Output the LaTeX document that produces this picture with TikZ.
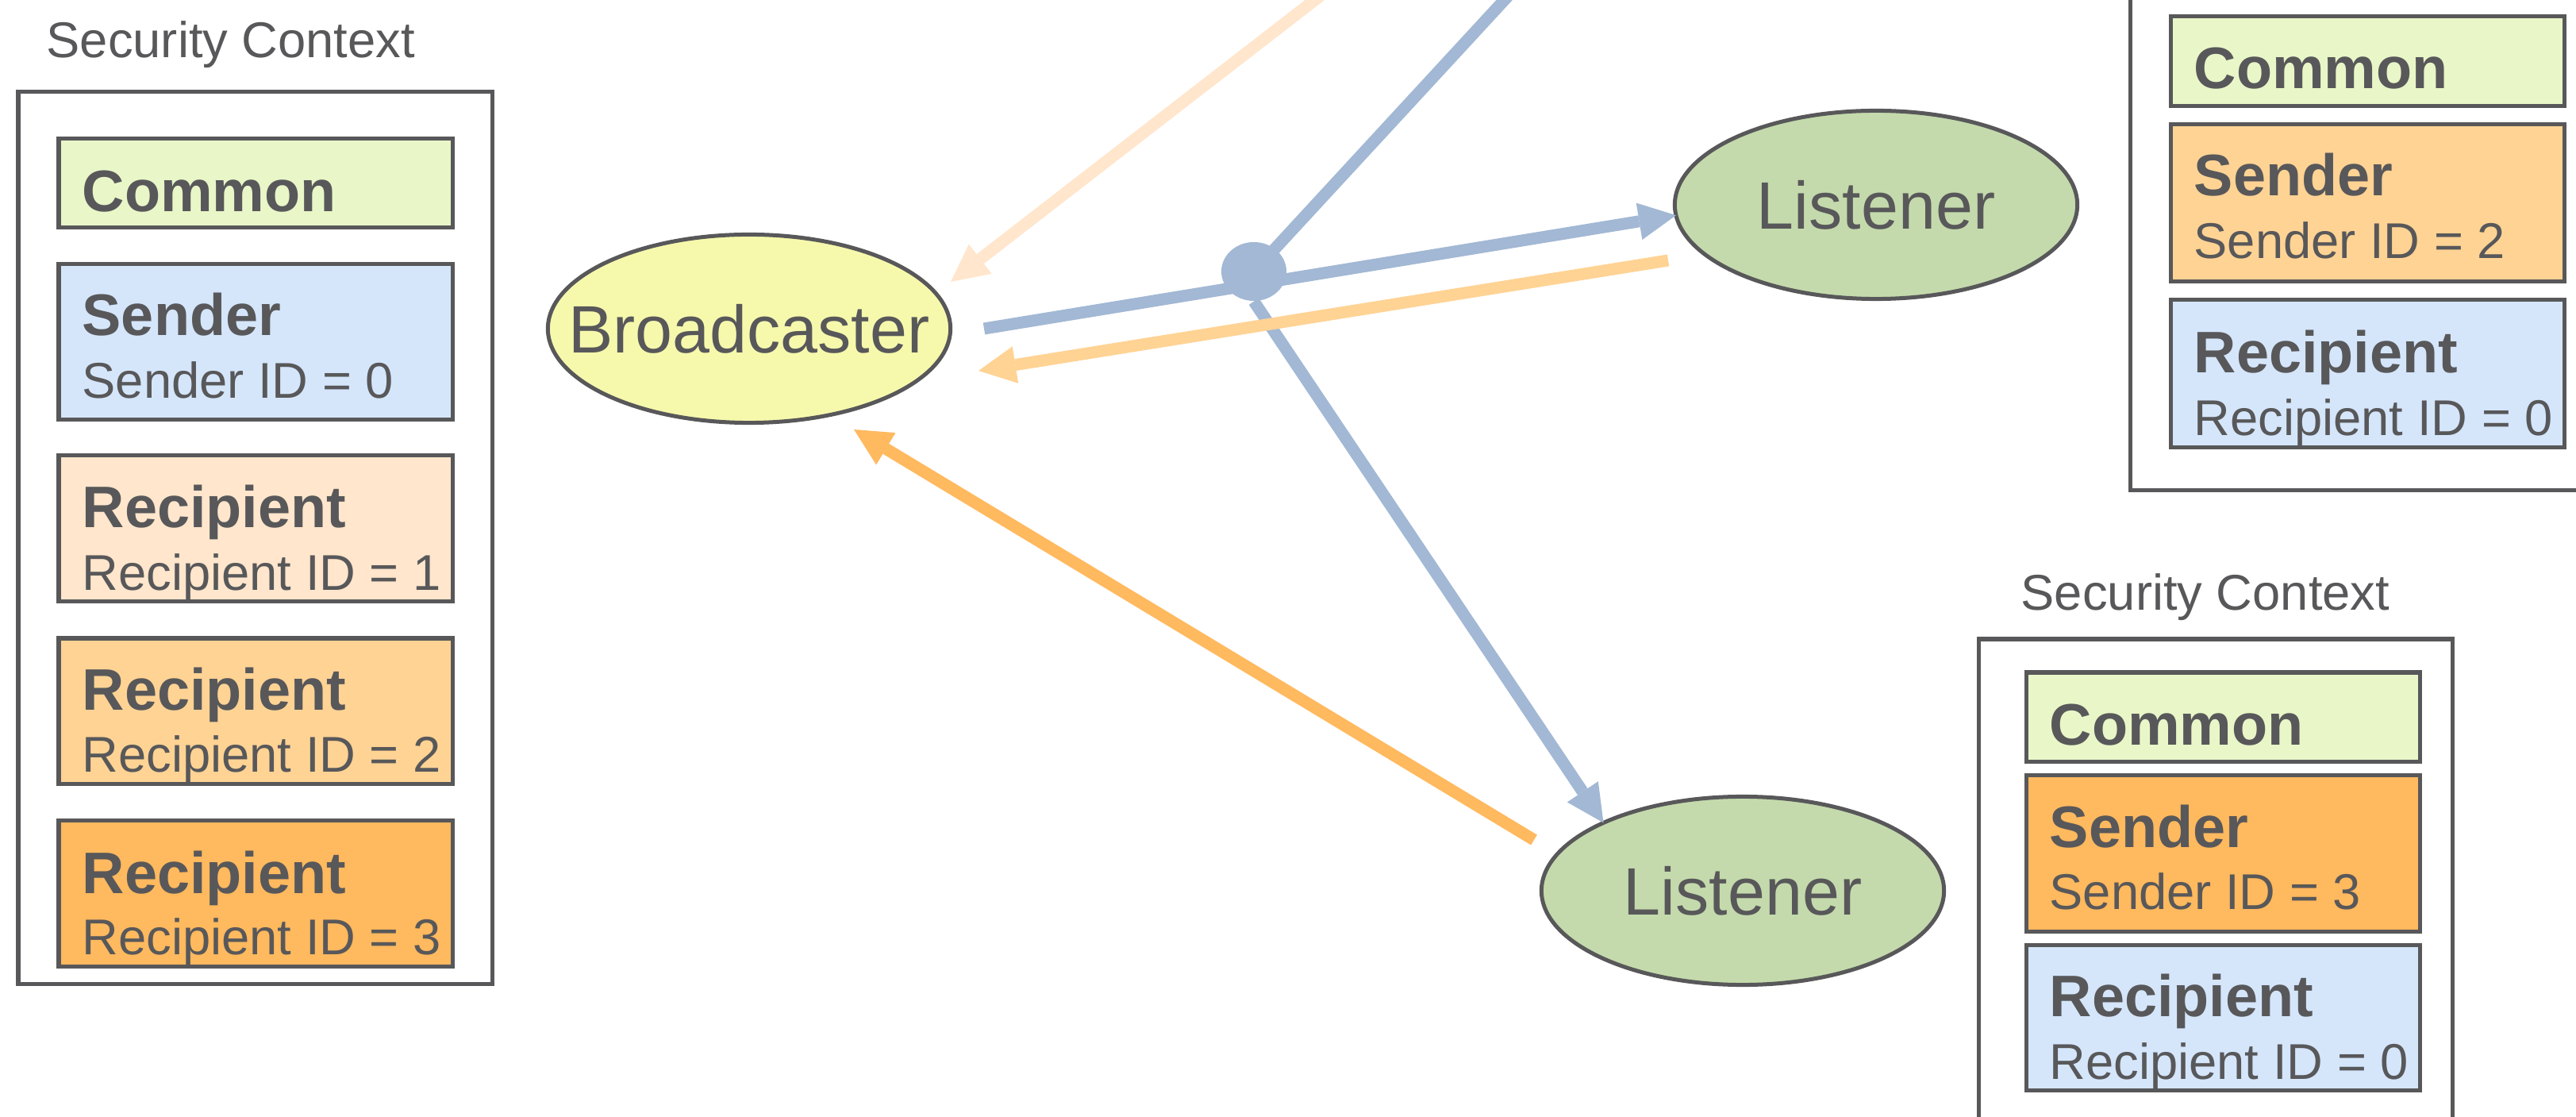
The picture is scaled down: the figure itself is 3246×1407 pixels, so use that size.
\documentclass[tikz,border=0pt]{standalone}
\usepackage{fontspec}
\setmainfont{Liberation Sans}
\usetikzlibrary{shapes.geometric,arrows.meta}
\definecolor{txt}{HTML}{58585A}
\definecolor{edge}{HTML}{58585A}
\definecolor{commonfill}{HTML}{E9F6C8}
\definecolor{bluefill}{HTML}{D5E6FB}
\definecolor{peach}{HTML}{FFE6CC}
\definecolor{orangeA}{HTML}{FFD394}
\definecolor{orangeB}{HTML}{FFB95E}
\definecolor{bcfill}{HTML}{F6F9AC}
\definecolor{lsfill}{HTML}{C4DAAC}
\definecolor{wire}{HTML}{A2B8D4}
\begin{document}
\begin{tikzpicture}[x=0.01cm,y=-0.01cm,
  part/.style={draw=edge, line width=0.05cm, rectangle, anchor=north west, inner sep=0, outer sep=0, minimum width=4.96cm},
  ctxbox/.style={draw=edge, line width=0.05cm, rectangle, anchor=north west, inner sep=0, outer sep=0, fill=white, minimum width=5.97cm},
  ttl/.style={anchor=base west, inner sep=0, text=txt, font=\fontsize{18pt}{21pt}\selectfont},
  hd/.style={anchor=base west, inner sep=0, text=txt, font=\fontsize{21pt}{25pt}\selectfont\bfseries},
  sub/.style={anchor=base west, inner sep=0, text=txt, font=\fontsize{18pt}{21pt}\selectfont},
  role/.style={ellipse, draw=edge, line width=0.05cm, minimum width=5.07cm, minimum height=2.37cm, inner sep=0, outer sep=0},
  rolelabel/.style={inner sep=0, text=txt, font=\fontsize{24pt}{28pt}\selectfont},
  flow/.style={line width=0.15cm, -{Triangle[length=0.47cm,width=0.47cm,line width=0pt]}},
  wireline/.style={line width=0.15cm, draw=wire},
]
\useasboundingbox (0,0) rectangle (3246,1407);
\fill[white] (0,0) rectangle (3246,1407);
\clip (0,0) rectangle (3246,1407);

% ---------- left security context ----------
\node[ttl] (lttl) at (58,73) {Security Context};
\node[ctxbox, minimum height=11.23cm] (lctx) at (23,116) {};
\node[part, fill=commonfill, minimum height=1.11cm] (lcom) at (74,175) {};
\node[hd] (lcomT) at (103,267) {Common};
\node[part, fill=bluefill, minimum height=1.95cm] (lsnd) at (74,333) {};
\node[hd] (lsndT) at (103,423) {Sender};
\node[sub] (lsndS) at (103,502) {Sender ID = 0};
\node[part, fill=peach, minimum height=1.83cm] (lr1) at (74,574) {};
\node[hd] (lr1T) at (103,665) {Recipient};
\node[sub] (lr1S) at (103,744) {Recipient ID = 1};
\node[part, fill=orangeA, minimum height=1.83cm] (lr2) at (74,804) {};
\node[hd] (lr2T) at (103,895) {Recipient};
\node[sub] (lr2S) at (103,972) {Recipient ID = 2};
\node[part, fill=orangeB, minimum height=1.84cm] (lr3) at (74,1033) {};
\node[hd] (lr3T) at (103,1125) {Recipient};
\node[sub] (lr3S) at (103,1202) {Recipient ID = 3};

% ---------- right top security context ----------
\node[ctxbox, minimum height=9.17cm] (tctx) at (2684,-300) {};
\node[part, fill=commonfill, minimum height=1.12cm] (tcom) at (2735,21) {};
\node[hd] (tcomT) at (2764,112) {Common};
\node[part, fill=orangeA, minimum height=1.97cm] (tsnd) at (2735,157) {};
\node[hd] (tsndT) at (2764,247) {Sender};
\node[sub] (tsndS) at (2764,326) {Sender ID = 2};
\node[part, fill=bluefill, minimum height=1.85cm] (trc) at (2735,378) {};
\node[hd] (trcT) at (2764,470) {Recipient};
\node[sub] (trcS) at (2764,549) {Recipient ID = 0};

% ---------- right bottom security context ----------
\node[ttl] (bttl) at (2546,769) {Security Context};
\node[ctxbox, minimum height=7.95cm] (bctx) at (2493,805) {};
\node[part, fill=commonfill, minimum height=1.12cm] (bcom) at (2553,847) {};
\node[hd] (bcomT) at (2582,939) {Common};
\node[part, fill=orangeB, minimum height=1.97cm] (bsnd) at (2553,976) {};
\node[hd] (bsndT) at (2582,1067) {Sender};
\node[sub] (bsndS) at (2582,1145) {Sender ID = 3};
\node[part, fill=bluefill, minimum height=1.83cm] (brc) at (2553,1190) {};
\node[hd] (brcT) at (2582,1280) {Recipient};
\node[sub] (brcS) at (2582,1359) {Recipient ID = 0};

% ---------- roles ----------
\node[role, fill=bcfill] (B) at (944,414) {};
\node[rolelabel] (Bt) at (B.center) {Broadcaster};
\node[role, fill=lsfill] (L1) at (2364,258) {};
\node[rolelabel] (L1t) at (L1.center) {Listener};
\node[role, fill=lsfill] (L2) at (2196,1122) {};
\node[rolelabel] (L2t) at (L2.center) {Listener};

% ---------- free ends ----------
\coordinate (bstart) at (1240,414);
\coordinate (bluesrc) at (1988,-100);
\coordinate (peachsrc) at (1786,-100);
\coordinate (peachtip) at (1198,355);
\coordinate (l1out) at (2102,328);
\coordinate (o2tip) at (1233,467);
\coordinate (l2out) at (1933,1058);
\coordinate (o3tip) at (1076,541);

% ---------- blue multicast ----------
\node[ellipse, fill=wire, minimum width=0.82cm, minimum height=0.74cm, inner sep=0] (hub) at (1580,342) {};
\draw[wireline] (bluesrc) -- (hub.center);
\draw[flow, draw=wire, fill=wire] (bstart) -- (L1.183);
\draw[flow, draw=wire, fill=wire] (hub.south) -- (L2.154.5);

% ---------- unicast replies ----------
\draw[flow, draw=peach, fill=peach] (peachsrc) -- (peachtip);
\draw[flow, draw=orangeA, fill=orangeA] (l1out) -- (o2tip);
\draw[flow, draw=orangeB, fill=orangeB] (l2out) -- (o3tip);
\end{tikzpicture}
\end{document}
